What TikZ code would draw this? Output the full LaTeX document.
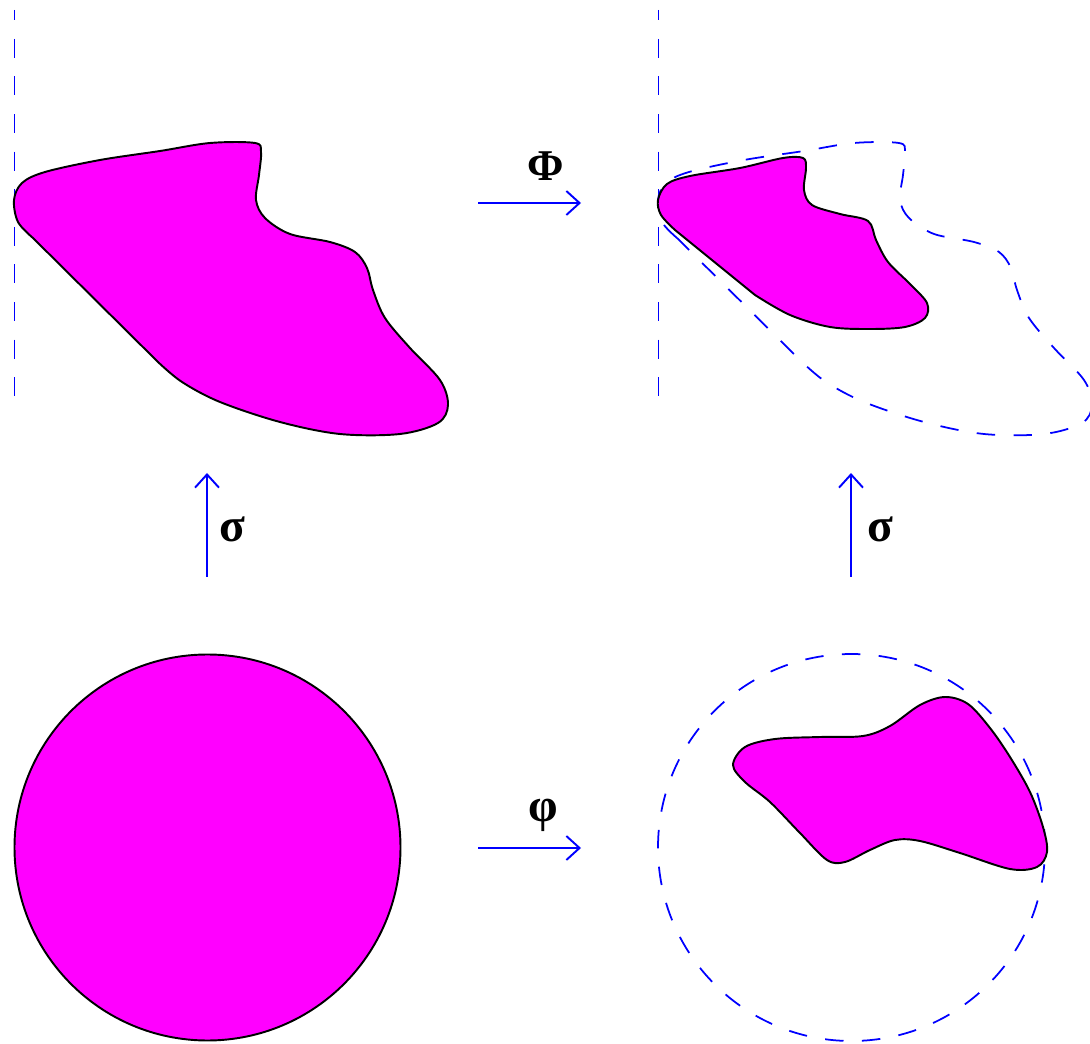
\documentclass[tikz,border=0pt]{standalone}
\usepackage{fontspec}
\setmainfont{Liberation Serif}
\usetikzlibrary{arrows.meta}
\tikzset{
  blob/.style={fill={rgb,255:red,255;green,0;blue,255}, draw=black, line width=1.1pt, line join=round},
  ghost/.style={draw={rgb,255:red,0;green,0;blue,255}, line width=1pt, dash pattern=on 10.5pt off 10.5pt},
  axisline/.style={draw={rgb,255:red,0;green,0;blue,255}, line width=1pt, dash pattern=on 10.8pt off 10.6pt, dash phase=5pt},
  maparrow/.style={draw={rgb,255:red,0;green,0;blue,255}, line width=1.1pt, -{Straight Barb[length=7.5pt,width=13.6pt,line width=1.1pt]}},
  maplabel/.style={font=\bfseries\fontsize{25}{28}\selectfont, inner sep=0pt},
  greeklabel/.style={font=\bfseries\fontsize{27}{30}\selectfont, inner sep=0pt},
}
\begin{document}
\begin{tikzpicture}[x=0.02cm,y=-0.02cm]
\useasboundingbox (0,0) rectangle (1090,1044);
% dashed vertical axes
\coordinate (la) at (14.5,10); \coordinate (lb) at (14.5,396);
\coordinate (ra) at (658.5,10); \coordinate (rb) at (658.5,396);
\draw[axisline] (la) -- (lb);
\draw[axisline] (ra) -- (rb);
% original shape (top left)
\def\bigshape{(33,238) (18,222) (14,200) (22,183) (45,172) (100,160) (160,151) (210,143) (255,143) (261,152) (259,175) (256,200) (265,218) (290,234) (330,242) (355,252) (367,268) (373,290) (385,318) (410,348) (440,380) (448,405) (438,423) (400,434) (340,434) (280,422) (220,402) (182,382) (158,362)}
\filldraw[blob] plot[smooth, tension=0.55] coordinates {\bigshape} -- cycle;
% its outline, translated (top right)
\begin{scope}[shift={(644,0)}]
\draw[ghost] plot[smooth, tension=0.55] coordinates {\bigshape} -- cycle;
\end{scope}
% image shape (top right)
\filldraw[blob] plot[smooth, tension=0.55] coordinates {(675,230) (661,215) (658,200) (667,184) (690,176) (740,168) (783,158) (803,158) (806,168) (804,190) (812,205) (840,214) (868,221) (876,240) (888,262) (910,284) (927,303) (925,318) (905,327) (870,329) (830,327) (790,315) (755,295)} -- cycle;
% disc (bottom left)
\node[blob, circle, minimum size=386*0.02cm, inner sep=0pt] (disc) at (207.5,847.5) {};
% dashed disc (bottom right)
\node[ghost, circle, minimum size=387*0.02cm, inner sep=0pt] (ghostdisc) at (851.5,847.5) {};
% image shape (bottom right)
\filldraw[blob] plot[smooth cycle, tension=0.55] coordinates {(733,765) (745,747) (775,739) (820,737) (863,736) (890,726) (920,705) (945,697) (968,704) (990,728) (1010,757) (1030,792) (1043,827) (1047,852) (1037,867) (1010,869) (960,853) (920,841) (895,840) (870,850) (845,862) (827,860) (800,833) (770,802) (745,782)};
% arrows
\coordinate (Pa) at (478,203); \coordinate (Pb) at (581,203);
\coordinate (pa) at (478,848); \coordinate (pb) at (581,848);
\coordinate (sla) at (207,577); \coordinate (slb) at (207,473);
\coordinate (sra) at (851,577); \coordinate (srb) at (851,473);
\draw[maparrow] (Pa) -- (Pb);
\draw[maparrow] (pa) -- (pb);
\draw[maparrow] (sla) -- (slb);
\draw[maparrow] (sra) -- (srb);
% labels
\node[maplabel] (Phi) at (546,166) {Φ};
\node[greeklabel] (phi) at (543,815) {φ};
\node[greeklabel] (sigl) at (232,529) {σ};
\node[greeklabel] (sigr) at (880,529) {σ};
\end{tikzpicture}
\end{document}
